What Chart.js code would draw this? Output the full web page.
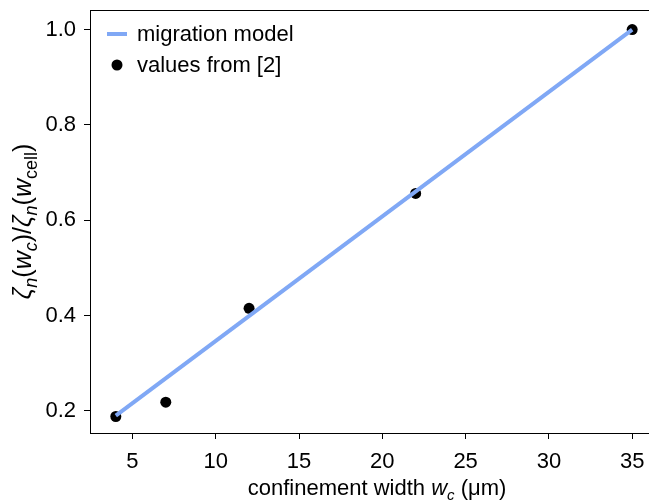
<!DOCTYPE html>
<html>
<head>
    <meta charset="utf-8" />
    <title>Migration model</title>
    <script src="https://cdn.jsdelivr.net/npm/chart.js"></script>
    <style>
        html, body {
            margin: 0;
            padding: 0;
            background: #fff;
            overflow: hidden;
        }
        #wrap {
            width: 649px;
            height: 501px;
            overflow: hidden;
        }
    </style>
</head>
<body>
<div id="wrap">
    <canvas id="chart" width="670" height="501"></canvas>
</div>
<script>
    // measured values (confinement width in um, normalised friction)
    const widths = [4, 7, 12, 22, 35];
    const values = [0.188, 0.218, 0.415, 0.656, 1.0];

    // migration model line
    const modelWidths = [4, 35];
    const modelValues = [0.19, 1.0];

    const xTicks = [5, 10, 15, 20, 25, 30, 35];
    const yTicks = [0.2, 0.4, 0.6, 0.8, 1.0];

    const legendLabels = ['migration model', 'values from [2]'];

    const lineColor = '#80a8f5';
    const FONT = '"Liberation Sans", Arial, Helvetica, sans-serif';

    // draws text made of pieces: {t, it (italic), sub}
    function drawRich(ctx, parts, x, y, size, subRatio) {
        const subSize = Math.round(size * (subRatio || 0.7));
        const fontFor = p => (p.it ? 'italic ' : '') + (p.sub ? subSize : size) + 'px ' + FONT;
        let total = 0;
        parts.forEach(p => {
            ctx.font = fontFor(p);
            total += ctx.measureText(p.t).width;
        });
        let cx = x - total / 2;
        ctx.textBaseline = 'alphabetic';
        ctx.textAlign = 'left';
        parts.forEach(p => {
            ctx.font = fontFor(p);
            ctx.fillText(p.t, cx, p.sub ? y + size * 0.22 : y);
            cx += ctx.measureText(p.t).width;
        });
    }

    const framePlugin = {
        id: 'frame',
        afterDraw(chart) {
            const ctx = chart.ctx;
            const a = chart.chartArea;
            ctx.save();
            ctx.strokeStyle = '#000';
            ctx.lineWidth = 1;
            ctx.strokeRect(Math.round(a.left) + 0.5, Math.round(a.top) + 0.5,
                Math.round(a.right - a.left), Math.round(a.bottom - a.top));

            // legend
            ctx.fillStyle = '#000';
            ctx.font = '22px ' + FONT;
            ctx.textBaseline = 'middle';
            ctx.textAlign = 'left';
            ctx.strokeStyle = lineColor;
            ctx.lineWidth = 4;
            ctx.beginPath();
            ctx.moveTo(107, 34);
            ctx.lineTo(127, 34);
            ctx.stroke();
            ctx.fillText(legendLabels[0], 137, 35);
            ctx.beginPath();
            ctx.arc(117, 65, 5.5, 0, Math.PI * 2);
            ctx.fill();
            ctx.fillText(legendLabels[1], 137, 66);

            // x title
            ctx.fillStyle = '#000';
            drawRich(ctx, [
                {t: 'confinement width '},
                {t: 'w', it: true},
                {t: 'c', it: true, sub: true},
                {t: ' (\u03bcm)'}
            ], (a.left + a.right) / 2 + 3, 495, 22);

            // y title
            ctx.translate(31, (a.top + a.bottom) / 2);
            ctx.rotate(-Math.PI / 2);
            drawRich(ctx, [
                {t: '\u03b6', it: true},
                {t: 'n', it: true, sub: true},
                {t: '('},
                {t: 'w', it: true},
                {t: 'c', it: true, sub: true},
                {t: ')/'},
                {t: '\u03b6', it: true},
                {t: 'n', it: true, sub: true},
                {t: '('},
                {t: 'w', it: true},
                {t: 'cell', sub: true},
                {t: ')'}
            ], 0, 0, 25, 0.72);
            ctx.restore();
        }
    };

    const ctx = document.getElementById('chart').getContext('2d');
    const chart = new Chart(ctx, {
        type: 'scatter',
        data: {
            datasets: [
                {
                    label: legendLabels[0],
                    data: modelWidths.map((w, i) => ({x: w, y: modelValues[i]})),
                    showLine: true,
                    borderColor: lineColor,
                    borderWidth: 4,
                    pointRadius: 0,
                    order: 0
                },
                {
                    label: legendLabels[1],
                    data: widths.map((w, i) => ({x: w, y: values[i]})),
                    backgroundColor: '#000',
                    borderColor: '#000',
                    pointRadius: 5.5,
                    borderWidth: 0,
                    order: 1
                }
            ]
        },
        options: {
            responsive: false,
            animation: false,
            events: [],
            layout: {
                padding: {top: 10, left: 0, right: 12, bottom: 0}
            },
            plugins: {
                legend: {display: false},
                tooltip: {enabled: false}
            },
            scales: {
                x: {
                    type: 'linear',
                    min: 2.45,
                    max: 36.55,
                    afterFit: s => { s.height = 68; s.paddingLeft = 0; s.paddingRight = 0; },
                    afterBuildTicks: s => { s.ticks = xTicks.map(v => ({value: v})); },
                    grid: {drawOnChartArea: false, drawTicks: true, tickLength: 6, color: '#000'},
                    border: {display: true, color: '#000', width: 1},
                    ticks: {
                        color: '#000',
                        padding: 10,
                        maxRotation: 0,
                        font: {family: FONT, size: 22}
                    }
                },
                y: {
                    type: 'linear',
                    min: 0.1534,
                    max: 1.041,
                    afterFit: s => { s.width = 90; s.paddingTop = 0; s.paddingBottom = 0; },
                    afterBuildTicks: s => { s.ticks = yTicks.map(v => ({value: v})); },
                    grid: {drawOnChartArea: false, drawTicks: true, tickLength: 6, color: '#000'},
                    border: {display: true, color: '#000', width: 1},
                    ticks: {
                        color: '#000',
                        padding: 8,
                        font: {family: FONT, size: 22},
                        callback: v => v.toFixed(1)
                    }
                }
            }
        },
        plugins: [framePlugin]
    });
</script>
</body>
</html>
